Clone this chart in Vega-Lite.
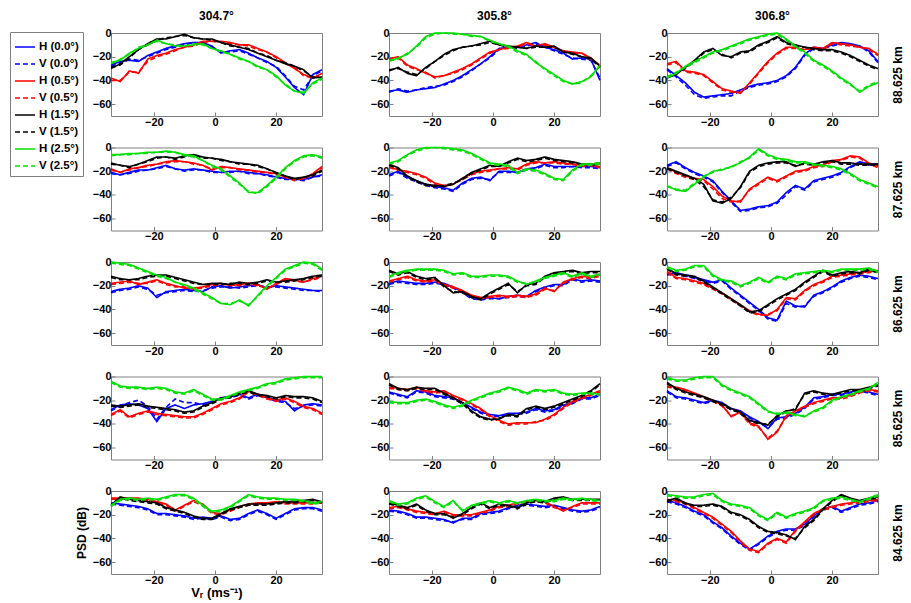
{
  "$schema": "https://vega.github.io/schema/vega-lite/v6.json",
  "padding": {"left": 9, "top": 9, "right": 4, "bottom": 2},
  "data": {"values": [
    {"p":1,"x":-34,"e00h":-27,"e00v":-28,"e05h":-38,"e05v":-40,"e15h":-30,"e15v":-29,"e25h":-25,"e25v":-26},
    {"p":1,"x":-31,"e00h":-24,"e00v":-25,"e05h":-41,"e05v":-40,"e15h":-26,"e15v":-27,"e25h":-23,"e25v":-22},
    {"p":1,"x":-28,"e00h":-23,"e00v":-22,"e05h":-32,"e05v":-33,"e15h":-20,"e15v":-21,"e25h":-17,"e25v":-18},
    {"p":1,"x":-25,"e00h":-24,"e00v":-23,"e05h":-34,"e05v":-33,"e15h":-14,"e15v":-14,"e25h":-13,"e25v":-12},
    {"p":1,"x":-22,"e00h":-19,"e00v":-20,"e05h":-22,"e05v":-24,"e15h":-9,"e15v":-10,"e25h":-10,"e25v":-10},
    {"p":1,"x":-19,"e00h":-16,"e00v":-17,"e05h":-19,"e05v":-20,"e15h":-5,"e15v":-6,"e25h":-6,"e25v":-7},
    {"p":1,"x":-16,"e00h":-13,"e00v":-14,"e05h":-17,"e05v":-18,"e15h":-5,"e15v":-4,"e25h":-9,"e25v":-9},
    {"p":1,"x":-13,"e00h":-11,"e00v":-12,"e05h":-14,"e05v":-15,"e15h":-3,"e15v":-3,"e25h":-11,"e25v":-10},
    {"p":1,"x":-10,"e00h":-9,"e00v":-10,"e05h":-12,"e05v":-12,"e15h":-1,"e15v":-2,"e25h":-11,"e25v":-11},
    {"p":1,"x":-7,"e00h":-8,"e00v":-8,"e05h":-10,"e05v":-11,"e15h":-4,"e15v":-4,"e25h":-10,"e25v":-9},
    {"p":1,"x":-4,"e00h":-8,"e00v":-9,"e05h":-7,"e05v":-8,"e15h":-5,"e15v":-5,"e25h":-9,"e25v":-10},
    {"p":1,"x":-1,"e00h":-11,"e00v":-12,"e05h":-7,"e05v":-7,"e15h":-5,"e15v":-6,"e25h":-13,"e25v":-13},
    {"p":1,"x":2,"e00h":-17,"e00v":-16,"e05h":-7,"e05v":-8,"e15h":-8,"e15v":-8,"e25h":-15,"e25v":-16},
    {"p":1,"x":5,"e00h":-15,"e00v":-16,"e05h":-8,"e05v":-9,"e15h":-10,"e15v":-11,"e25h":-18,"e25v":-18},
    {"p":1,"x":8,"e00h":-14,"e00v":-15,"e05h":-10,"e05v":-10,"e15h":-12,"e15v":-12,"e25h":-21,"e25v":-22},
    {"p":1,"x":11,"e00h":-17,"e00v":-18,"e05h":-10,"e05v":-11,"e15h":-14,"e15v":-13,"e25h":-24,"e25v":-24},
    {"p":1,"x":14,"e00h":-21,"e00v":-21,"e05h":-13,"e05v":-14,"e15h":-17,"e15v":-17,"e25h":-28,"e25v":-29},
    {"p":1,"x":17,"e00h":-24,"e00v":-25,"e05h":-16,"e05v":-16,"e15h":-20,"e15v":-19,"e25h":-31,"e25v":-31},
    {"p":1,"x":20,"e00h":-29,"e00v":-28,"e05h":-20,"e05v":-21,"e15h":-23,"e15v":-23,"e25h":-36,"e25v":-37},
    {"p":1,"x":23,"e00h":-37,"e00v":-36,"e05h":-25,"e05v":-26,"e15h":-26,"e15v":-25,"e25h":-44,"e25v":-43},
    {"p":1,"x":26,"e00h":-46,"e00v":-45,"e05h":-30,"e05v":-29,"e15h":-28,"e15v":-28,"e25h":-49,"e25v":-49},
    {"p":1,"x":29,"e00h":-52,"e00v":-48,"e05h":-35,"e05v":-36,"e15h":-31,"e15v":-32,"e25h":-51,"e25v":-50},
    {"p":1,"x":32,"e00h":-35,"e00v":-36,"e05h":-38,"e05v":-38,"e15h":-38,"e15v":-37,"e25h":-42,"e25v":-43},
    {"p":1,"x":35,"e00h":-31,"e00v":-32,"e05h":-34,"e05v":-35,"e15h":-37,"e15v":-38,"e25h":-38,"e25v":-39},

    {"p":2,"x":-34,"e00h":-49,"e00v":-50,"e05h":-22,"e05v":-23,"e15h":-32,"e15v":-31,"e25h":-24,"e25v":-23},
    {"p":2,"x":-31,"e00h":-48,"e00v":-47,"e05h":-20,"e05v":-21,"e15h":-29,"e15v":-30,"e25h":-21,"e25v":-22},
    {"p":2,"x":-28,"e00h":-50,"e00v":-49,"e05h":-27,"e05v":-28,"e15h":-34,"e15v":-33,"e25h":-18,"e25v":-17},
    {"p":2,"x":-25,"e00h":-48,"e00v":-48,"e05h":-30,"e05v":-31,"e15h":-36,"e15v":-35,"e25h":-11,"e25v":-12},
    {"p":2,"x":-22,"e00h":-47,"e00v":-46,"e05h":-34,"e05v":-33,"e15h":-29,"e15v":-30,"e25h":-3,"e25v":-4},
    {"p":2,"x":-19,"e00h":-46,"e00v":-45,"e05h":-37,"e05v":-38,"e15h":-24,"e15v":-24,"e25h":0,"e25v":-1},
    {"p":2,"x":-16,"e00h":-43,"e00v":-44,"e05h":-36,"e05v":-36,"e15h":-18,"e15v":-19,"e25h":0,"e25v":0},
    {"p":2,"x":-13,"e00h":-40,"e00v":-41,"e05h":-33,"e05v":-34,"e15h":-14,"e15v":-15,"e25h":0,"e25v":-1},
    {"p":2,"x":-10,"e00h":-36,"e00v":-37,"e05h":-30,"e05v":-31,"e15h":-12,"e15v":-12,"e25h":-1,"e25v":-1},
    {"p":2,"x":-7,"e00h":-31,"e00v":-32,"e05h":-26,"e05v":-27,"e15h":-11,"e15v":-11,"e25h":-2,"e25v":-3},
    {"p":2,"x":-4,"e00h":-26,"e00v":-26,"e05h":-21,"e05v":-22,"e15h":-9,"e15v":-10,"e25h":-3,"e25v":-3},
    {"p":2,"x":-1,"e00h":-20,"e00v":-21,"e05h":-16,"e05v":-17,"e15h":-7,"e15v":-8,"e25h":-6,"e25v":-7},
    {"p":2,"x":2,"e00h":-13,"e00v":-14,"e05h":-14,"e05v":-14,"e15h":-10,"e15v":-10,"e25h":-9,"e25v":-9},
    {"p":2,"x":5,"e00h":-12,"e00v":-12,"e05h":-12,"e05v":-13,"e15h":-11,"e15v":-12,"e25h":-11,"e25v":-12},
    {"p":2,"x":8,"e00h":-12,"e00v":-13,"e05h":-11,"e05v":-12,"e15h":-12,"e15v":-12,"e25h":-15,"e25v":-16},
    {"p":2,"x":11,"e00h":-10,"e00v":-11,"e05h":-8,"e05v":-9,"e15h":-13,"e15v":-13,"e25h":-18,"e25v":-19},
    {"p":2,"x":14,"e00h":-8,"e00v":-9,"e05h":-11,"e05v":-11,"e15h":-11,"e15v":-12,"e25h":-25,"e25v":-24},
    {"p":2,"x":17,"e00h":-12,"e00v":-12,"e05h":-9,"e05v":-10,"e15h":-12,"e15v":-12,"e25h":-30,"e25v":-31},
    {"p":2,"x":20,"e00h":-14,"e00v":-15,"e05h":-12,"e05v":-12,"e15h":-11,"e15v":-12,"e25h":-35,"e25v":-36},
    {"p":2,"x":23,"e00h":-17,"e00v":-18,"e05h":-15,"e05v":-16,"e15h":-16,"e15v":-16,"e25h":-40,"e25v":-41},
    {"p":2,"x":26,"e00h":-22,"e00v":-21,"e05h":-16,"e05v":-17,"e15h":-17,"e15v":-18,"e25h":-43,"e25v":-43},
    {"p":2,"x":29,"e00h":-21,"e00v":-22,"e05h":-17,"e05v":-17,"e15h":-20,"e15v":-20,"e25h":-41,"e25v":-42},
    {"p":2,"x":32,"e00h":-22,"e00v":-23,"e05h":-21,"e05v":-22,"e15h":-21,"e15v":-22,"e25h":-37,"e25v":-36},
    {"p":2,"x":35,"e00h":-40,"e00v":-38,"e05h":-28,"e05v":-27,"e15h":-28,"e15v":-29,"e25h":-27,"e25v":-28},

    {"p":3,"x":-34,"e00h":-30,"e00v":-31,"e05h":-26,"e05v":-27,"e15h":-38,"e15v":-37,"e25h":-38,"e25v":-37},
    {"p":3,"x":-31,"e00h":-36,"e00v":-37,"e05h":-24,"e05v":-25,"e15h":-35,"e15v":-34,"e25h":-34,"e25v":-33},
    {"p":3,"x":-28,"e00h":-42,"e00v":-44,"e05h":-32,"e05v":-33,"e15h":-29,"e15v":-30,"e25h":-28,"e25v":-29},
    {"p":3,"x":-25,"e00h":-50,"e00v":-52,"e05h":-33,"e05v":-34,"e15h":-23,"e15v":-24,"e25h":-24,"e25v":-25},
    {"p":3,"x":-22,"e00h":-54,"e00v":-55,"e05h":-35,"e05v":-36,"e15h":-16,"e15v":-17,"e25h":-20,"e25v":-21},
    {"p":3,"x":-19,"e00h":-53,"e00v":-54,"e05h":-41,"e05v":-42,"e15h":-13,"e15v":-14,"e25h":-16,"e25v":-17},
    {"p":3,"x":-16,"e00h":-52,"e00v":-53,"e05h":-47,"e05v":-48,"e15h":-19,"e15v":-18,"e25h":-14,"e25v":-15},
    {"p":3,"x":-13,"e00h":-51,"e00v":-53,"e05h":-49,"e05v":-50,"e15h":-20,"e15v":-21,"e25h":-11,"e25v":-12},
    {"p":3,"x":-10,"e00h":-48,"e00v":-49,"e05h":-51,"e05v":-50,"e15h":-16,"e15v":-17,"e25h":-8,"e25v":-9},
    {"p":3,"x":-7,"e00h":-45,"e00v":-46,"e05h":-42,"e05v":-43,"e15h":-15,"e15v":-16,"e25h":-5,"e25v":-6},
    {"p":3,"x":-4,"e00h":-43,"e00v":-44,"e05h":-33,"e05v":-34,"e15h":-10,"e15v":-11,"e25h":-3,"e25v":-4},
    {"p":3,"x":-1,"e00h":-42,"e00v":-43,"e05h":-24,"e05v":-25,"e15h":-7,"e15v":-8,"e25h":-1,"e25v":-2},
    {"p":3,"x":2,"e00h":-40,"e00v":-41,"e05h":-17,"e05v":-18,"e15h":-3,"e15v":-4,"e25h":0,"e25v":-1},
    {"p":3,"x":5,"e00h":-36,"e00v":-37,"e05h":-12,"e05v":-13,"e15h":-8,"e15v":-9,"e25h":-5,"e25v":-6},
    {"p":3,"x":8,"e00h":-29,"e00v":-30,"e05h":-12,"e05v":-13,"e15h":-10,"e15v":-11,"e25h":-11,"e25v":-12},
    {"p":3,"x":11,"e00h":-18,"e00v":-19,"e05h":-14,"e05v":-14,"e15h":-12,"e15v":-12,"e25h":-16,"e25v":-17},
    {"p":3,"x":14,"e00h":-12,"e00v":-13,"e05h":-12,"e05v":-13,"e15h":-13,"e15v":-14,"e25h":-23,"e25v":-24},
    {"p":3,"x":17,"e00h":-13,"e00v":-13,"e05h":-13,"e05v":-14,"e15h":-14,"e15v":-15,"e25h":-27,"e25v":-28},
    {"p":3,"x":20,"e00h":-10,"e00v":-11,"e05h":-8,"e05v":-9,"e15h":-14,"e15v":-15,"e25h":-32,"e25v":-33},
    {"p":3,"x":23,"e00h":-8,"e00v":-9,"e05h":-9,"e05v":-10,"e15h":-16,"e15v":-17,"e25h":-38,"e25v":-39},
    {"p":3,"x":26,"e00h":-9,"e00v":-10,"e05h":-10,"e05v":-11,"e15h":-19,"e15v":-20,"e25h":-43,"e25v":-44},
    {"p":3,"x":29,"e00h":-11,"e00v":-11,"e05h":-12,"e05v":-12,"e15h":-23,"e15v":-24,"e25h":-50,"e25v":-49},
    {"p":3,"x":32,"e00h":-15,"e00v":-16,"e05h":-13,"e05v":-14,"e15h":-27,"e15v":-28,"e25h":-45,"e25v":-44},
    {"p":3,"x":35,"e00h":-24,"e00v":-25,"e05h":-18,"e05v":-19,"e15h":-30,"e15v":-31,"e25h":-42,"e25v":-41},

    {"p":4,"x":-34,"e00h":-21,"e00v":-22,"e05h":-18,"e05v":-19,"e15h":-13,"e15v":-14,"e25h":-6,"e25v":-7},
    {"p":4,"x":-31,"e00h":-23,"e00v":-23,"e05h":-21,"e05v":-21,"e15h":-15,"e15v":-15,"e25h":-6,"e25v":-6},
    {"p":4,"x":-28,"e00h":-21,"e00v":-22,"e05h":-18,"e05v":-19,"e15h":-16,"e15v":-17,"e25h":-5,"e25v":-6},
    {"p":4,"x":-25,"e00h":-19,"e00v":-20,"e05h":-17,"e05v":-17,"e15h":-14,"e15v":-14,"e25h":-5,"e25v":-5},
    {"p":4,"x":-22,"e00h":-19,"e00v":-19,"e05h":-15,"e05v":-16,"e15h":-11,"e15v":-12,"e25h":-4,"e25v":-5},
    {"p":4,"x":-19,"e00h":-17,"e00v":-18,"e05h":-14,"e05v":-14,"e15h":-8,"e15v":-9,"e25h":-4,"e25v":-4},
    {"p":4,"x":-16,"e00h":-15,"e00v":-16,"e05h":-12,"e05v":-13,"e15h":-8,"e15v":-8,"e25h":-3,"e25v":-4},
    {"p":4,"x":-13,"e00h":-18,"e00v":-18,"e05h":-11,"e05v":-12,"e15h":-9,"e15v":-10,"e25h":-4,"e25v":-4},
    {"p":4,"x":-10,"e00h":-19,"e00v":-20,"e05h":-12,"e05v":-12,"e15h":-7,"e15v":-8,"e25h":-6,"e25v":-7},
    {"p":4,"x":-7,"e00h":-18,"e00v":-19,"e05h":-13,"e05v":-14,"e15h":-6,"e15v":-6,"e25h":-7,"e25v":-8},
    {"p":4,"x":-4,"e00h":-19,"e00v":-19,"e05h":-15,"e05v":-15,"e15h":-8,"e15v":-9,"e25h":-11,"e25v":-11},
    {"p":4,"x":-1,"e00h":-20,"e00v":-21,"e05h":-19,"e05v":-18,"e15h":-9,"e15v":-9,"e25h":-15,"e25v":-16},
    {"p":4,"x":2,"e00h":-21,"e00v":-21,"e05h":-16,"e05v":-17,"e15h":-10,"e15v":-11,"e25h":-18,"e25v":-19},
    {"p":4,"x":5,"e00h":-20,"e00v":-21,"e05h":-17,"e05v":-17,"e15h":-12,"e15v":-12,"e25h":-24,"e25v":-25},
    {"p":4,"x":8,"e00h":-20,"e00v":-20,"e05h":-18,"e05v":-19,"e15h":-13,"e15v":-14,"e25h":-30,"e25v":-31},
    {"p":4,"x":11,"e00h":-21,"e00v":-22,"e05h":-19,"e05v":-19,"e15h":-14,"e15v":-14,"e25h":-38,"e25v":-37},
    {"p":4,"x":14,"e00h":-22,"e00v":-22,"e05h":-20,"e05v":-21,"e15h":-15,"e15v":-16,"e25h":-38,"e25v":-39},
    {"p":4,"x":17,"e00h":-23,"e00v":-24,"e05h":-21,"e05v":-21,"e15h":-18,"e15v":-18,"e25h":-32,"e25v":-33},
    {"p":4,"x":20,"e00h":-25,"e00v":-25,"e05h":-22,"e05v":-23,"e15h":-21,"e15v":-22,"e25h":-25,"e25v":-26},
    {"p":4,"x":23,"e00h":-26,"e00v":-27,"e05h":-25,"e05v":-25,"e15h":-24,"e15v":-24,"e25h":-17,"e25v":-18},
    {"p":4,"x":26,"e00h":-27,"e00v":-27,"e05h":-27,"e05v":-28,"e15h":-26,"e15v":-27,"e25h":-11,"e25v":-12},
    {"p":4,"x":29,"e00h":-27,"e00v":-28,"e05h":-26,"e05v":-26,"e15h":-25,"e15v":-25,"e25h":-7,"e25v":-8},
    {"p":4,"x":32,"e00h":-25,"e00v":-25,"e05h":-22,"e05v":-23,"e15h":-23,"e15v":-24,"e25h":-6,"e25v":-7},
    {"p":4,"x":35,"e00h":-23,"e00v":-24,"e05h":-16,"e05v":-17,"e15h":-19,"e15v":-20,"e25h":-8,"e25v":-9},

    {"p":5,"x":-34,"e00h":-23,"e00v":-24,"e05h":-16,"e05v":-17,"e15h":-14,"e15v":-15,"e25h":-13,"e25v":-14},
    {"p":5,"x":-31,"e00h":-20,"e00v":-21,"e05h":-19,"e05v":-19,"e15h":-17,"e15v":-18,"e25h":-11,"e25v":-12},
    {"p":5,"x":-28,"e00h":-25,"e00v":-26,"e05h":-20,"e05v":-21,"e15h":-24,"e15v":-25,"e25h":-6,"e25v":-7},
    {"p":5,"x":-25,"e00h":-28,"e00v":-29,"e05h":-22,"e05v":-23,"e15h":-28,"e15v":-29,"e25h":-2,"e25v":-3},
    {"p":5,"x":-22,"e00h":-31,"e00v":-32,"e05h":-25,"e05v":-26,"e15h":-31,"e15v":-32,"e25h":0,"e25v":-1},
    {"p":5,"x":-19,"e00h":-33,"e00v":-34,"e05h":-30,"e05v":-31,"e15h":-32,"e15v":-33,"e25h":0,"e25v":0},
    {"p":5,"x":-16,"e00h":-34,"e00v":-35,"e05h":-32,"e05v":-33,"e15h":-33,"e15v":-32,"e25h":0,"e25v":-1},
    {"p":5,"x":-13,"e00h":-36,"e00v":-37,"e05h":-31,"e05v":-31,"e15h":-31,"e15v":-30,"e25h":-1,"e25v":-2},
    {"p":5,"x":-10,"e00h":-30,"e00v":-31,"e05h":-26,"e05v":-27,"e15h":-26,"e15v":-27,"e25h":-2,"e25v":-3},
    {"p":5,"x":-7,"e00h":-26,"e00v":-27,"e05h":-22,"e05v":-23,"e15h":-21,"e15v":-22,"e25h":-5,"e25v":-6},
    {"p":5,"x":-4,"e00h":-25,"e00v":-26,"e05h":-20,"e05v":-21,"e15h":-18,"e15v":-19,"e25h":-9,"e25v":-10},
    {"p":5,"x":-1,"e00h":-28,"e00v":-27,"e05h":-19,"e05v":-20,"e15h":-15,"e15v":-16,"e25h":-13,"e25v":-14},
    {"p":5,"x":2,"e00h":-20,"e00v":-21,"e05h":-18,"e05v":-18,"e15h":-16,"e15v":-16,"e25h":-14,"e25v":-15},
    {"p":5,"x":5,"e00h":-20,"e00v":-21,"e05h":-17,"e05v":-18,"e15h":-12,"e15v":-13,"e25h":-15,"e25v":-16},
    {"p":5,"x":8,"e00h":-21,"e00v":-21,"e05h":-18,"e05v":-19,"e15h":-9,"e15v":-10,"e25h":-21,"e25v":-22},
    {"p":5,"x":11,"e00h":-18,"e00v":-19,"e05h":-14,"e05v":-15,"e15h":-11,"e15v":-12,"e25h":-18,"e25v":-19},
    {"p":5,"x":14,"e00h":-17,"e00v":-18,"e05h":-12,"e05v":-13,"e15h":-10,"e15v":-11,"e25h":-19,"e25v":-20},
    {"p":5,"x":17,"e00h":-14,"e00v":-15,"e05h":-13,"e05v":-13,"e15h":-8,"e15v":-9,"e25h":-22,"e25v":-23},
    {"p":5,"x":20,"e00h":-16,"e00v":-17,"e05h":-12,"e05v":-13,"e15h":-10,"e15v":-11,"e25h":-26,"e25v":-27},
    {"p":5,"x":23,"e00h":-16,"e00v":-17,"e05h":-13,"e05v":-14,"e15h":-11,"e15v":-12,"e25h":-27,"e25v":-28},
    {"p":5,"x":26,"e00h":-16,"e00v":-16,"e05h":-14,"e05v":-14,"e15h":-12,"e15v":-13,"e25h":-19,"e25v":-20},
    {"p":5,"x":29,"e00h":-16,"e00v":-17,"e05h":-15,"e05v":-16,"e15h":-14,"e15v":-14,"e25h":-14,"e25v":-15},
    {"p":5,"x":32,"e00h":-16,"e00v":-17,"e05h":-15,"e05v":-15,"e15h":-14,"e15v":-15,"e25h":-14,"e25v":-15},
    {"p":5,"x":35,"e00h":-17,"e00v":-18,"e05h":-16,"e05v":-17,"e15h":-13,"e15v":-14,"e25h":-13,"e25v":-14},

    {"p":6,"x":-34,"e00h":-15,"e00v":-16,"e05h":-17,"e05v":-18,"e15h":-17,"e15v":-18,"e25h":-32,"e25v":-33},
    {"p":6,"x":-31,"e00h":-12,"e00v":-13,"e05h":-21,"e05v":-22,"e15h":-20,"e15v":-21,"e25h":-36,"e25v":-35},
    {"p":6,"x":-28,"e00h":-17,"e00v":-18,"e05h":-24,"e05v":-25,"e15h":-23,"e15v":-24,"e25h":-37,"e25v":-36},
    {"p":6,"x":-25,"e00h":-21,"e00v":-22,"e05h":-26,"e05v":-27,"e15h":-26,"e15v":-27,"e25h":-31,"e25v":-30},
    {"p":6,"x":-22,"e00h":-24,"e00v":-25,"e05h":-27,"e05v":-28,"e15h":-31,"e15v":-33,"e25h":-25,"e25v":-24},
    {"p":6,"x":-19,"e00h":-28,"e00v":-29,"e05h":-33,"e05v":-35,"e15h":-45,"e15v":-44,"e25h":-20,"e25v":-21},
    {"p":6,"x":-16,"e00h":-37,"e00v":-38,"e05h":-41,"e05v":-43,"e15h":-47,"e15v":-46,"e25h":-19,"e25v":-18},
    {"p":6,"x":-13,"e00h":-45,"e00v":-46,"e05h":-45,"e05v":-46,"e15h":-43,"e15v":-42,"e25h":-16,"e25v":-17},
    {"p":6,"x":-10,"e00h":-53,"e00v":-54,"e05h":-46,"e05v":-45,"e15h":-33,"e15v":-34,"e25h":-13,"e25v":-12},
    {"p":6,"x":-7,"e00h":-52,"e00v":-53,"e05h":-35,"e05v":-36,"e15h":-20,"e15v":-21,"e25h":-8,"e25v":-9},
    {"p":6,"x":-4,"e00h":-50,"e00v":-51,"e05h":-30,"e05v":-31,"e15h":-15,"e15v":-16,"e25h":-1,"e25v":-2},
    {"p":6,"x":-1,"e00h":-49,"e00v":-50,"e05h":-25,"e05v":-26,"e15h":-13,"e15v":-14,"e25h":-6,"e25v":-7},
    {"p":6,"x":2,"e00h":-46,"e00v":-47,"e05h":-28,"e05v":-29,"e15h":-12,"e15v":-13,"e25h":-9,"e25v":-10},
    {"p":6,"x":5,"e00h":-38,"e00v":-40,"e05h":-24,"e05v":-25,"e15h":-12,"e15v":-13,"e25h":-10,"e25v":-11},
    {"p":6,"x":8,"e00h":-32,"e00v":-33,"e05h":-20,"e05v":-21,"e15h":-16,"e15v":-15,"e25h":-12,"e25v":-13},
    {"p":6,"x":11,"e00h":-35,"e00v":-36,"e05h":-19,"e05v":-20,"e15h":-13,"e15v":-14,"e25h":-12,"e25v":-13},
    {"p":6,"x":14,"e00h":-28,"e00v":-29,"e05h":-16,"e05v":-17,"e15h":-14,"e15v":-15,"e25h":-14,"e25v":-15},
    {"p":6,"x":17,"e00h":-26,"e00v":-27,"e05h":-15,"e05v":-16,"e15h":-12,"e15v":-13,"e25h":-15,"e25v":-16},
    {"p":6,"x":20,"e00h":-24,"e00v":-25,"e05h":-11,"e05v":-12,"e15h":-11,"e15v":-12,"e25h":-16,"e25v":-17},
    {"p":6,"x":23,"e00h":-21,"e00v":-22,"e05h":-10,"e05v":-11,"e15h":-13,"e15v":-14,"e25h":-18,"e25v":-19},
    {"p":6,"x":26,"e00h":-16,"e00v":-17,"e05h":-7,"e05v":-8,"e15h":-13,"e15v":-14,"e25h":-22,"e25v":-23},
    {"p":6,"x":29,"e00h":-12,"e00v":-13,"e05h":-8,"e05v":-9,"e15h":-14,"e15v":-15,"e25h":-27,"e25v":-28},
    {"p":6,"x":32,"e00h":-14,"e00v":-15,"e05h":-13,"e05v":-14,"e15h":-14,"e15v":-15,"e25h":-30,"e25v":-31},
    {"p":6,"x":35,"e00h":-14,"e00v":-15,"e05h":-16,"e05v":-17,"e15h":-14,"e15v":-15,"e25h":-33,"e25v":-34},

    {"p":7,"x":-34,"e00h":-25,"e00v":-26,"e05h":-18,"e05v":-19,"e15h":-12,"e15v":-13,"e25h":0,"e25v":-1},
    {"p":7,"x":-31,"e00h":-23,"e00v":-24,"e05h":-17,"e05v":-18,"e15h":-14,"e15v":-15,"e25h":-1,"e25v":-2},
    {"p":7,"x":-28,"e00h":-22,"e00v":-23,"e05h":-16,"e05v":-17,"e15h":-15,"e15v":-15,"e25h":-2,"e25v":-3},
    {"p":7,"x":-25,"e00h":-20,"e00v":-21,"e05h":-19,"e05v":-18,"e15h":-14,"e15v":-15,"e25h":-5,"e25v":-6},
    {"p":7,"x":-22,"e00h":-22,"e00v":-23,"e05h":-17,"e05v":-18,"e15h":-12,"e15v":-13,"e25h":-8,"e25v":-9},
    {"p":7,"x":-19,"e00h":-30,"e00v":-28,"e05h":-15,"e05v":-16,"e15h":-11,"e15v":-12,"e25h":-11,"e25v":-12},
    {"p":7,"x":-16,"e00h":-25,"e00v":-26,"e05h":-18,"e05v":-19,"e15h":-11,"e15v":-12,"e25h":-13,"e25v":-14},
    {"p":7,"x":-13,"e00h":-24,"e00v":-25,"e05h":-20,"e05v":-21,"e15h":-13,"e15v":-14,"e25h":-17,"e25v":-17},
    {"p":7,"x":-10,"e00h":-23,"e00v":-24,"e05h":-22,"e05v":-21,"e15h":-15,"e15v":-16,"e25h":-19,"e25v":-20},
    {"p":7,"x":-7,"e00h":-24,"e00v":-25,"e05h":-22,"e05v":-23,"e15h":-17,"e15v":-18,"e25h":-22,"e25v":-23},
    {"p":7,"x":-4,"e00h":-25,"e00v":-24,"e05h":-21,"e05v":-22,"e15h":-19,"e15v":-19,"e25h":-26,"e25v":-27},
    {"p":7,"x":-1,"e00h":-21,"e00v":-22,"e05h":-19,"e05v":-20,"e15h":-18,"e15v":-19,"e25h":-30,"e25v":-31},
    {"p":7,"x":2,"e00h":-20,"e00v":-21,"e05h":-18,"e05v":-19,"e15h":-18,"e15v":-19,"e25h":-35,"e25v":-35},
    {"p":7,"x":5,"e00h":-22,"e00v":-21,"e05h":-20,"e05v":-19,"e15h":-19,"e15v":-18,"e25h":-36,"e25v":-35},
    {"p":7,"x":8,"e00h":-21,"e00v":-22,"e05h":-19,"e05v":-20,"e15h":-17,"e15v":-18,"e25h":-32,"e25v":-33},
    {"p":7,"x":11,"e00h":-20,"e00v":-21,"e05h":-18,"e05v":-19,"e15h":-18,"e15v":-19,"e25h":-37,"e25v":-36},
    {"p":7,"x":14,"e00h":-19,"e00v":-20,"e05h":-19,"e05v":-20,"e15h":-17,"e15v":-18,"e25h":-28,"e25v":-29},
    {"p":7,"x":17,"e00h":-22,"e00v":-21,"e05h":-23,"e05v":-22,"e15h":-15,"e15v":-16,"e25h":-20,"e25v":-21},
    {"p":7,"x":20,"e00h":-20,"e00v":-21,"e05h":-18,"e05v":-19,"e15h":-17,"e15v":-17,"e25h":-13,"e25v":-14},
    {"p":7,"x":23,"e00h":-21,"e00v":-22,"e05h":-14,"e05v":-15,"e15h":-16,"e15v":-17,"e25h":-6,"e25v":-7},
    {"p":7,"x":26,"e00h":-22,"e00v":-23,"e05h":-15,"e05v":-16,"e15h":-15,"e15v":-16,"e25h":-3,"e25v":-4},
    {"p":7,"x":29,"e00h":-23,"e00v":-24,"e05h":-17,"e05v":-17,"e15h":-14,"e15v":-15,"e25h":0,"e25v":-1},
    {"p":7,"x":32,"e00h":-24,"e00v":-24,"e05h":-14,"e05v":-15,"e15h":-12,"e15v":-13,"e25h":-1,"e25v":-2},
    {"p":7,"x":35,"e00h":-24,"e00v":-25,"e05h":-12,"e05v":-13,"e15h":-11,"e15v":-12,"e25h":-6,"e25v":-7},

    {"p":8,"x":-34,"e00h":-18,"e00v":-19,"e05h":-16,"e05v":-17,"e15h":-7,"e15v":-8,"e25h":-12,"e25v":-13},
    {"p":8,"x":-31,"e00h":-16,"e00v":-17,"e05h":-14,"e05v":-15,"e15h":-10,"e15v":-11,"e25h":-9,"e25v":-10},
    {"p":8,"x":-28,"e00h":-17,"e00v":-18,"e05h":-12,"e05v":-13,"e15h":-8,"e15v":-9,"e25h":-7,"e25v":-8},
    {"p":8,"x":-25,"e00h":-18,"e00v":-19,"e05h":-15,"e05v":-16,"e15h":-12,"e15v":-13,"e25h":-6,"e25v":-7},
    {"p":8,"x":-22,"e00h":-18,"e00v":-19,"e05h":-16,"e05v":-17,"e15h":-14,"e15v":-15,"e25h":-6,"e25v":-7},
    {"p":8,"x":-19,"e00h":-17,"e00v":-18,"e05h":-15,"e05v":-16,"e15h":-13,"e15v":-14,"e25h":-6,"e25v":-7},
    {"p":8,"x":-16,"e00h":-18,"e00v":-19,"e05h":-19,"e05v":-20,"e15h":-20,"e15v":-21,"e25h":-7,"e25v":-8},
    {"p":8,"x":-13,"e00h":-21,"e00v":-22,"e05h":-21,"e05v":-22,"e15h":-26,"e15v":-25,"e25h":-10,"e25v":-11},
    {"p":8,"x":-10,"e00h":-25,"e00v":-26,"e05h":-24,"e05v":-25,"e15h":-25,"e15v":-26,"e25h":-9,"e25v":-10},
    {"p":8,"x":-7,"e00h":-30,"e00v":-31,"e05h":-28,"e05v":-29,"e15h":-29,"e15v":-30,"e25h":-12,"e25v":-13},
    {"p":8,"x":-4,"e00h":-31,"e00v":-32,"e05h":-30,"e05v":-31,"e15h":-31,"e15v":-32,"e25h":-12,"e25v":-13},
    {"p":8,"x":-1,"e00h":-30,"e00v":-31,"e05h":-29,"e05v":-30,"e15h":-26,"e15v":-27,"e25h":-11,"e25v":-12},
    {"p":8,"x":2,"e00h":-31,"e00v":-31,"e05h":-28,"e05v":-29,"e15h":-22,"e15v":-23,"e25h":-11,"e25v":-12},
    {"p":8,"x":5,"e00h":-29,"e00v":-30,"e05h":-29,"e05v":-30,"e15h":-18,"e15v":-19,"e25h":-12,"e25v":-13},
    {"p":8,"x":8,"e00h":-28,"e00v":-29,"e05h":-28,"e05v":-29,"e15h":-26,"e15v":-25,"e25h":-16,"e25v":-17},
    {"p":8,"x":11,"e00h":-29,"e00v":-30,"e05h":-29,"e05v":-30,"e15h":-19,"e15v":-20,"e25h":-19,"e25v":-18},
    {"p":8,"x":14,"e00h":-24,"e00v":-25,"e05h":-27,"e05v":-28,"e15h":-18,"e15v":-19,"e25h":-16,"e25v":-17},
    {"p":8,"x":17,"e00h":-21,"e00v":-22,"e05h":-22,"e05v":-23,"e15h":-12,"e15v":-13,"e25h":-13,"e25v":-14},
    {"p":8,"x":20,"e00h":-19,"e00v":-20,"e05h":-25,"e05v":-24,"e15h":-9,"e15v":-10,"e25h":-11,"e25v":-12},
    {"p":8,"x":23,"e00h":-19,"e00v":-20,"e05h":-17,"e05v":-18,"e15h":-8,"e15v":-9,"e25h":-9,"e25v":-10},
    {"p":8,"x":26,"e00h":-14,"e00v":-15,"e05h":-14,"e05v":-15,"e15h":-7,"e15v":-8,"e25h":-12,"e25v":-13},
    {"p":8,"x":29,"e00h":-16,"e00v":-17,"e05h":-12,"e05v":-13,"e15h":-9,"e15v":-10,"e25h":-9,"e25v":-10},
    {"p":8,"x":32,"e00h":-15,"e00v":-16,"e05h":-13,"e05v":-14,"e15h":-8,"e15v":-9,"e25h":-12,"e25v":-13},
    {"p":8,"x":35,"e00h":-16,"e00v":-17,"e05h":-11,"e05v":-12,"e15h":-8,"e15v":-9,"e25h":-10,"e25v":-11},

    {"p":9,"x":-34,"e00h":-10,"e00v":-11,"e05h":-8,"e05v":-9,"e15h":-5,"e15v":-6,"e25h":-4,"e25v":-5},
    {"p":9,"x":-31,"e00h":-9,"e00v":-10,"e05h":-13,"e05v":-14,"e15h":-10,"e15v":-11,"e25h":-7,"e25v":-8},
    {"p":9,"x":-28,"e00h":-11,"e00v":-12,"e05h":-14,"e05v":-15,"e15h":-11,"e15v":-12,"e25h":-6,"e25v":-7},
    {"p":9,"x":-25,"e00h":-13,"e00v":-14,"e05h":-16,"e05v":-17,"e15h":-12,"e15v":-13,"e25h":-3,"e25v":-4},
    {"p":9,"x":-22,"e00h":-15,"e00v":-16,"e05h":-18,"e05v":-19,"e15h":-16,"e15v":-17,"e25h":-3,"e25v":-4},
    {"p":9,"x":-19,"e00h":-17,"e00v":-18,"e05h":-22,"e05v":-23,"e15h":-21,"e15v":-22,"e25h":-11,"e25v":-12},
    {"p":9,"x":-16,"e00h":-15,"e00v":-16,"e05h":-26,"e05v":-27,"e15h":-26,"e15v":-27,"e25h":-15,"e25v":-16},
    {"p":9,"x":-13,"e00h":-22,"e00v":-23,"e05h":-31,"e05v":-32,"e15h":-31,"e15v":-32,"e25h":-16,"e25v":-17},
    {"p":9,"x":-10,"e00h":-28,"e00v":-29,"e05h":-36,"e05v":-37,"e15h":-36,"e15v":-37,"e25h":-20,"e25v":-21},
    {"p":9,"x":-7,"e00h":-34,"e00v":-35,"e05h":-41,"e05v":-42,"e15h":-42,"e15v":-43,"e25h":-17,"e25v":-18},
    {"p":9,"x":-4,"e00h":-40,"e00v":-41,"e05h":-44,"e05v":-45,"e15h":-41,"e15v":-42,"e25h":-13,"e25v":-14},
    {"p":9,"x":-1,"e00h":-47,"e00v":-48,"e05h":-45,"e05v":-44,"e15h":-36,"e15v":-37,"e25h":-17,"e25v":-18},
    {"p":9,"x":2,"e00h":-49,"e00v":-50,"e05h":-40,"e05v":-41,"e15h":-31,"e15v":-32,"e25h":-12,"e25v":-13},
    {"p":9,"x":5,"e00h":-33,"e00v":-35,"e05h":-30,"e05v":-31,"e15h":-27,"e15v":-28,"e25h":-14,"e25v":-15},
    {"p":9,"x":8,"e00h":-37,"e00v":-38,"e05h":-31,"e05v":-32,"e15h":-23,"e15v":-24,"e25h":-10,"e25v":-11},
    {"p":9,"x":11,"e00h":-38,"e00v":-37,"e05h":-24,"e05v":-25,"e15h":-17,"e15v":-18,"e25h":-9,"e25v":-10},
    {"p":9,"x":14,"e00h":-28,"e00v":-29,"e05h":-19,"e05v":-20,"e15h":-12,"e15v":-13,"e25h":-8,"e25v":-9},
    {"p":9,"x":17,"e00h":-25,"e00v":-26,"e05h":-16,"e05v":-17,"e15h":-7,"e15v":-8,"e25h":-7,"e25v":-8},
    {"p":9,"x":20,"e00h":-21,"e00v":-22,"e05h":-12,"e05v":-13,"e15h":-11,"e15v":-12,"e25h":-8,"e25v":-9},
    {"p":9,"x":23,"e00h":-16,"e00v":-17,"e05h":-11,"e05v":-12,"e15h":-9,"e15v":-10,"e25h":-6,"e25v":-7},
    {"p":9,"x":26,"e00h":-13,"e00v":-14,"e05h":-10,"e05v":-11,"e15h":-8,"e15v":-9,"e25h":-6,"e25v":-7},
    {"p":9,"x":29,"e00h":-11,"e00v":-12,"e05h":-9,"e05v":-10,"e15h":-9,"e15v":-10,"e25h":-6,"e25v":-7},
    {"p":9,"x":32,"e00h":-12,"e00v":-13,"e05h":-8,"e05v":-9,"e15h":-6,"e15v":-7,"e25h":-5,"e25v":-6},
    {"p":9,"x":35,"e00h":-14,"e00v":-15,"e05h":-7,"e05v":-8,"e15h":-8,"e15v":-9,"e25h":-8,"e25v":-9},

    {"p":10,"x":-34,"e00h":-28,"e00v":-29,"e05h":-32,"e05v":-33,"e15h":-24,"e15v":-25,"e25h":-4,"e25v":-5},
    {"p":10,"x":-31,"e00h":-24,"e00v":-25,"e05h":-28,"e05v":-29,"e15h":-25,"e15v":-26,"e25h":-8,"e25v":-9},
    {"p":10,"x":-28,"e00h":-23,"e00v":-22,"e05h":-34,"e05v":-35,"e15h":-24,"e15v":-25,"e25h":-9,"e25v":-10},
    {"p":10,"x":-25,"e00h":-24,"e00v":-20,"e05h":-31,"e05v":-32,"e15h":-23,"e15v":-24,"e25h":-9,"e25v":-10},
    {"p":10,"x":-22,"e00h":-27,"e00v":-25,"e05h":-29,"e05v":-30,"e15h":-25,"e15v":-26,"e25h":-10,"e25v":-11},
    {"p":10,"x":-19,"e00h":-38,"e00v":-36,"e05h":-31,"e05v":-32,"e15h":-26,"e15v":-27,"e25h":-9,"e25v":-10},
    {"p":10,"x":-16,"e00h":-27,"e00v":-26,"e05h":-32,"e05v":-33,"e15h":-27,"e15v":-28,"e25h":-10,"e25v":-11},
    {"p":10,"x":-13,"e00h":-24,"e00v":-19,"e05h":-33,"e05v":-34,"e15h":-28,"e15v":-29,"e25h":-13,"e25v":-14},
    {"p":10,"x":-10,"e00h":-27,"e00v":-22,"e05h":-34,"e05v":-35,"e15h":-30,"e15v":-31,"e25h":-14,"e25v":-15},
    {"p":10,"x":-7,"e00h":-24,"e00v":-22,"e05h":-34,"e05v":-35,"e15h":-29,"e15v":-30,"e25h":-11,"e25v":-12},
    {"p":10,"x":-4,"e00h":-23,"e00v":-24,"e05h":-31,"e05v":-32,"e15h":-25,"e15v":-26,"e25h":-15,"e25v":-16},
    {"p":10,"x":-1,"e00h":-21,"e00v":-22,"e05h":-27,"e05v":-28,"e15h":-22,"e15v":-23,"e25h":-19,"e25v":-20},
    {"p":10,"x":2,"e00h":-18,"e00v":-19,"e05h":-23,"e05v":-24,"e15h":-18,"e15v":-19,"e25h":-19,"e25v":-20},
    {"p":10,"x":5,"e00h":-17,"e00v":-18,"e05h":-21,"e05v":-22,"e15h":-17,"e15v":-18,"e25h":-16,"e25v":-17},
    {"p":10,"x":8,"e00h":-15,"e00v":-16,"e05h":-18,"e05v":-19,"e15h":-14,"e15v":-15,"e25h":-13,"e25v":-14},
    {"p":10,"x":11,"e00h":-18,"e00v":-19,"e05h":-12,"e05v":-13,"e15h":-12,"e15v":-13,"e25h":-11,"e25v":-12},
    {"p":10,"x":14,"e00h":-15,"e00v":-16,"e05h":-15,"e05v":-16,"e15h":-15,"e15v":-16,"e25h":-9,"e25v":-10},
    {"p":10,"x":17,"e00h":-17,"e00v":-18,"e05h":-18,"e05v":-19,"e15h":-16,"e15v":-17,"e25h":-6,"e25v":-7},
    {"p":10,"x":20,"e00h":-20,"e00v":-21,"e05h":-20,"e05v":-21,"e15h":-18,"e15v":-19,"e25h":-5,"e25v":-6},
    {"p":10,"x":23,"e00h":-21,"e00v":-22,"e05h":-18,"e05v":-19,"e15h":-16,"e15v":-17,"e25h":-2,"e25v":-3},
    {"p":10,"x":26,"e00h":-29,"e00v":-27,"e05h":-21,"e05v":-22,"e15h":-17,"e15v":-18,"e25h":-1,"e25v":-2},
    {"p":10,"x":29,"e00h":-24,"e00v":-25,"e05h":-25,"e05v":-26,"e15h":-17,"e15v":-18,"e25h":0,"e25v":-1},
    {"p":10,"x":32,"e00h":-23,"e00v":-24,"e05h":-27,"e05v":-28,"e15h":-18,"e15v":-19,"e25h":0,"e25v":-1},
    {"p":10,"x":35,"e00h":-24,"e00v":-25,"e05h":-31,"e05v":-32,"e15h":-21,"e15v":-22,"e25h":0,"e25v":-1},

    {"p":11,"x":-34,"e00h":-13,"e00v":-14,"e05h":-9,"e05v":-10,"e15h":-6,"e15v":-7,"e25h":-21,"e25v":-22},
    {"p":11,"x":-31,"e00h":-15,"e00v":-16,"e05h":-10,"e05v":-11,"e15h":-10,"e15v":-11,"e25h":-22,"e25v":-23},
    {"p":11,"x":-28,"e00h":-17,"e00v":-18,"e05h":-11,"e05v":-12,"e15h":-11,"e15v":-12,"e25h":-22,"e25v":-23},
    {"p":11,"x":-25,"e00h":-12,"e00v":-13,"e05h":-9,"e05v":-10,"e15h":-9,"e15v":-10,"e25h":-20,"e25v":-21},
    {"p":11,"x":-22,"e00h":-13,"e00v":-14,"e05h":-12,"e05v":-13,"e15h":-10,"e15v":-11,"e25h":-19,"e25v":-20},
    {"p":11,"x":-19,"e00h":-16,"e00v":-17,"e05h":-13,"e05v":-14,"e15h":-10,"e15v":-11,"e25h":-21,"e25v":-22},
    {"p":11,"x":-16,"e00h":-17,"e00v":-18,"e05h":-12,"e05v":-13,"e15h":-14,"e15v":-15,"e25h":-24,"e25v":-25},
    {"p":11,"x":-13,"e00h":-18,"e00v":-19,"e05h":-16,"e05v":-17,"e15h":-18,"e15v":-19,"e25h":-26,"e25v":-27},
    {"p":11,"x":-10,"e00h":-22,"e00v":-23,"e05h":-19,"e05v":-20,"e15h":-22,"e15v":-23,"e25h":-24,"e25v":-25},
    {"p":11,"x":-7,"e00h":-26,"e00v":-27,"e05h":-23,"e05v":-24,"e15h":-29,"e15v":-30,"e25h":-20,"e25v":-21},
    {"p":11,"x":-4,"e00h":-30,"e00v":-31,"e05h":-27,"e05v":-28,"e15h":-34,"e15v":-35,"e25h":-17,"e25v":-18},
    {"p":11,"x":-1,"e00h":-32,"e00v":-33,"e05h":-33,"e05v":-34,"e15h":-36,"e15v":-37,"e25h":-14,"e25v":-15},
    {"p":11,"x":2,"e00h":-33,"e00v":-34,"e05h":-37,"e05v":-38,"e15h":-36,"e15v":-35,"e25h":-12,"e25v":-13},
    {"p":11,"x":5,"e00h":-31,"e00v":-32,"e05h":-40,"e05v":-41,"e15h":-32,"e15v":-33,"e25h":-9,"e25v":-10},
    {"p":11,"x":8,"e00h":-31,"e00v":-32,"e05h":-39,"e05v":-40,"e15h":-33,"e15v":-34,"e25h":-11,"e25v":-12},
    {"p":11,"x":11,"e00h":-30,"e00v":-31,"e05h":-39,"e05v":-40,"e15h":-27,"e15v":-28,"e25h":-14,"e25v":-15},
    {"p":11,"x":14,"e00h":-27,"e00v":-28,"e05h":-39,"e05v":-38,"e15h":-25,"e15v":-26,"e25h":-11,"e25v":-12},
    {"p":11,"x":17,"e00h":-29,"e00v":-30,"e05h":-36,"e05v":-37,"e15h":-27,"e15v":-28,"e25h":-12,"e25v":-13},
    {"p":11,"x":20,"e00h":-28,"e00v":-29,"e05h":-32,"e05v":-33,"e15h":-25,"e15v":-26,"e25h":-11,"e25v":-12},
    {"p":11,"x":23,"e00h":-24,"e00v":-25,"e05h":-26,"e05v":-27,"e15h":-22,"e15v":-23,"e25h":-14,"e25v":-15},
    {"p":11,"x":26,"e00h":-22,"e00v":-23,"e05h":-21,"e05v":-22,"e15h":-19,"e15v":-20,"e25h":-15,"e25v":-16},
    {"p":11,"x":29,"e00h":-18,"e00v":-19,"e05h":-18,"e05v":-19,"e15h":-16,"e15v":-17,"e25h":-14,"e25v":-15},
    {"p":11,"x":32,"e00h":-18,"e00v":-19,"e05h":-15,"e05v":-16,"e15h":-12,"e15v":-13,"e25h":-14,"e25v":-15},
    {"p":11,"x":35,"e00h":-15,"e00v":-16,"e05h":-12,"e05v":-13,"e15h":-6,"e15v":-7,"e25h":-15,"e25v":-16},

    {"p":12,"x":-34,"e00h":-12,"e00v":-13,"e05h":-8,"e05v":-9,"e15h":-5,"e15v":-6,"e25h":-1,"e25v":-2},
    {"p":12,"x":-31,"e00h":-17,"e00v":-18,"e05h":-9,"e05v":-10,"e15h":-10,"e15v":-11,"e25h":-3,"e25v":-4},
    {"p":12,"x":-28,"e00h":-18,"e00v":-19,"e05h":-11,"e05v":-12,"e15h":-13,"e15v":-14,"e25h":-3,"e25v":-4},
    {"p":12,"x":-25,"e00h":-20,"e00v":-21,"e05h":-14,"e05v":-15,"e15h":-15,"e15v":-16,"e25h":-1,"e25v":-2},
    {"p":12,"x":-22,"e00h":-22,"e00v":-23,"e05h":-17,"e05v":-18,"e15h":-17,"e15v":-18,"e25h":0,"e25v":-1},
    {"p":12,"x":-19,"e00h":-20,"e00v":-21,"e05h":-20,"e05v":-21,"e15h":-20,"e15v":-21,"e25h":0,"e25v":-1},
    {"p":12,"x":-16,"e00h":-22,"e00v":-23,"e05h":-24,"e05v":-25,"e15h":-23,"e15v":-24,"e25h":-7,"e25v":-8},
    {"p":12,"x":-13,"e00h":-27,"e00v":-28,"e05h":-34,"e05v":-33,"e15h":-27,"e15v":-28,"e25h":-11,"e25v":-12},
    {"p":12,"x":-10,"e00h":-29,"e00v":-30,"e05h":-30,"e05v":-31,"e15h":-30,"e15v":-31,"e25h":-14,"e25v":-15},
    {"p":12,"x":-7,"e00h":-34,"e00v":-35,"e05h":-39,"e05v":-40,"e15h":-37,"e15v":-38,"e25h":-17,"e25v":-18},
    {"p":12,"x":-4,"e00h":-38,"e00v":-39,"e05h":-42,"e05v":-43,"e15h":-39,"e15v":-40,"e25h":-23,"e25v":-24},
    {"p":12,"x":-1,"e00h":-44,"e00v":-43,"e05h":-53,"e05v":-52,"e15h":-41,"e15v":-40,"e25h":-29,"e25v":-30},
    {"p":12,"x":2,"e00h":-35,"e00v":-36,"e05h":-47,"e05v":-46,"e15h":-33,"e15v":-34,"e25h":-32,"e25v":-31},
    {"p":12,"x":5,"e00h":-34,"e00v":-35,"e05h":-33,"e05v":-34,"e15h":-29,"e15v":-30,"e25h":-30,"e25v":-31},
    {"p":12,"x":8,"e00h":-31,"e00v":-32,"e05h":-29,"e05v":-30,"e15h":-28,"e15v":-27,"e25h":-32,"e25v":-33},
    {"p":12,"x":11,"e00h":-26,"e00v":-27,"e05h":-25,"e05v":-26,"e15h":-14,"e15v":-15,"e25h":-34,"e25v":-33},
    {"p":12,"x":14,"e00h":-18,"e00v":-19,"e05h":-22,"e05v":-23,"e15h":-12,"e15v":-13,"e25h":-29,"e25v":-30},
    {"p":12,"x":17,"e00h":-17,"e00v":-18,"e05h":-20,"e05v":-21,"e15h":-14,"e15v":-15,"e25h":-26,"e25v":-27},
    {"p":12,"x":20,"e00h":-15,"e00v":-16,"e05h":-18,"e05v":-19,"e15h":-15,"e15v":-16,"e25h":-20,"e25v":-21},
    {"p":12,"x":23,"e00h":-15,"e00v":-16,"e05h":-18,"e05v":-19,"e15h":-13,"e15v":-14,"e25h":-17,"e25v":-18},
    {"p":12,"x":26,"e00h":-13,"e00v":-14,"e05h":-16,"e05v":-17,"e15h":-11,"e15v":-12,"e25h":-15,"e25v":-16},
    {"p":12,"x":29,"e00h":-11,"e00v":-12,"e05h":-13,"e05v":-14,"e15h":-11,"e15v":-12,"e25h":-12,"e25v":-13},
    {"p":12,"x":32,"e00h":-13,"e00v":-14,"e05h":-11,"e05v":-12,"e15h":-9,"e15v":-10,"e25h":-10,"e25v":-11},
    {"p":12,"x":35,"e00h":-15,"e00v":-16,"e05h":-12,"e05v":-13,"e15h":-7,"e15v":-8,"e25h":-5,"e25v":-6},

    {"p":13,"x":-34,"e00h":-10,"e00v":-11,"e05h":-6,"e05v":-7,"e15h":-12,"e15v":-13,"e25h":-12,"e25v":-13},
    {"p":13,"x":-31,"e00h":-11,"e00v":-12,"e05h":-6,"e05v":-7,"e15h":-5,"e15v":-6,"e25h":-7,"e25v":-8},
    {"p":13,"x":-28,"e00h":-12,"e00v":-13,"e05h":-6,"e05v":-7,"e15h":-7,"e15v":-8,"e25h":-6,"e25v":-7},
    {"p":13,"x":-25,"e00h":-13,"e00v":-14,"e05h":-6,"e05v":-7,"e15h":-8,"e15v":-9,"e25h":-7,"e25v":-8},
    {"p":13,"x":-22,"e00h":-15,"e00v":-16,"e05h":-7,"e05v":-8,"e15h":-9,"e15v":-10,"e25h":-6,"e25v":-7},
    {"p":13,"x":-19,"e00h":-19,"e00v":-20,"e05h":-9,"e05v":-10,"e15h":-10,"e15v":-11,"e25h":-7,"e25v":-8},
    {"p":13,"x":-16,"e00h":-19,"e00v":-20,"e05h":-11,"e05v":-12,"e15h":-14,"e15v":-15,"e25h":-5,"e25v":-6},
    {"p":13,"x":-13,"e00h":-20,"e00v":-21,"e05h":-16,"e05v":-17,"e15h":-16,"e15v":-17,"e25h":-3,"e25v":-4},
    {"p":13,"x":-10,"e00h":-21,"e00v":-22,"e05h":-12,"e05v":-13,"e15h":-18,"e15v":-19,"e25h":-3,"e25v":-4},
    {"p":13,"x":-7,"e00h":-23,"e00v":-24,"e05h":-8,"e05v":-9,"e15h":-21,"e15v":-22,"e25h":-6,"e25v":-7},
    {"p":13,"x":-4,"e00h":-22,"e00v":-23,"e05h":-11,"e05v":-12,"e15h":-23,"e15v":-24,"e25h":-12,"e25v":-13},
    {"p":13,"x":-1,"e00h":-23,"e00v":-24,"e05h":-18,"e05v":-19,"e15h":-23,"e15v":-24,"e25h":-17,"e25v":-18},
    {"p":13,"x":2,"e00h":-21,"e00v":-22,"e05h":-19,"e05v":-20,"e15h":-19,"e15v":-20,"e25h":-16,"e25v":-17},
    {"p":13,"x":5,"e00h":-24,"e00v":-25,"e05h":-16,"e05v":-17,"e15h":-15,"e15v":-16,"e25h":-13,"e25v":-14},
    {"p":13,"x":8,"e00h":-23,"e00v":-24,"e05h":-13,"e05v":-14,"e15h":-13,"e15v":-14,"e25h":-8,"e25v":-9},
    {"p":13,"x":11,"e00h":-19,"e00v":-20,"e05h":-11,"e05v":-12,"e15h":-11,"e15v":-12,"e25h":-3,"e25v":-4},
    {"p":13,"x":14,"e00h":-16,"e00v":-17,"e05h":-10,"e05v":-11,"e15h":-11,"e15v":-12,"e25h":-5,"e25v":-6},
    {"p":13,"x":17,"e00h":-19,"e00v":-20,"e05h":-10,"e05v":-11,"e15h":-11,"e15v":-12,"e25h":-6,"e25v":-7},
    {"p":13,"x":20,"e00h":-23,"e00v":-24,"e05h":-9,"e05v":-10,"e15h":-10,"e15v":-11,"e25h":-6,"e25v":-7},
    {"p":13,"x":23,"e00h":-19,"e00v":-20,"e05h":-10,"e05v":-11,"e15h":-9,"e15v":-10,"e25h":-7,"e25v":-8},
    {"p":13,"x":26,"e00h":-15,"e00v":-16,"e05h":-10,"e05v":-11,"e15h":-9,"e15v":-10,"e25h":-7,"e25v":-8},
    {"p":13,"x":29,"e00h":-14,"e00v":-15,"e05h":-10,"e05v":-11,"e15h":-8,"e15v":-9,"e25h":-8,"e25v":-9},
    {"p":13,"x":32,"e00h":-14,"e00v":-15,"e05h":-10,"e05v":-11,"e15h":-7,"e15v":-8,"e25h":-10,"e25v":-11},
    {"p":13,"x":35,"e00h":-16,"e00v":-17,"e05h":-9,"e05v":-10,"e15h":-9,"e15v":-10,"e25h":-9,"e25v":-10},

    {"p":14,"x":-34,"e00h":-16,"e00v":-17,"e05h":-14,"e05v":-15,"e15h":-10,"e15v":-11,"e25h":-8,"e25v":-9},
    {"p":14,"x":-31,"e00h":-17,"e00v":-18,"e05h":-13,"e05v":-14,"e15h":-12,"e15v":-13,"e25h":-11,"e25v":-12},
    {"p":14,"x":-28,"e00h":-19,"e00v":-20,"e05h":-15,"e05v":-16,"e15h":-14,"e15v":-15,"e25h":-10,"e25v":-11},
    {"p":14,"x":-25,"e00h":-22,"e00v":-23,"e05h":-17,"e05v":-18,"e15h":-11,"e15v":-12,"e25h":-6,"e25v":-7},
    {"p":14,"x":-22,"e00h":-22,"e00v":-23,"e05h":-18,"e05v":-19,"e15h":-16,"e15v":-17,"e25h":-4,"e25v":-5},
    {"p":14,"x":-19,"e00h":-23,"e00v":-24,"e05h":-19,"e05v":-20,"e15h":-19,"e15v":-20,"e25h":-9,"e25v":-10},
    {"p":14,"x":-16,"e00h":-24,"e00v":-25,"e05h":-17,"e05v":-18,"e15h":-19,"e15v":-20,"e25h":-13,"e25v":-14},
    {"p":14,"x":-13,"e00h":-27,"e00v":-26,"e05h":-20,"e05v":-21,"e15h":-23,"e15v":-22,"e25h":-8,"e25v":-9},
    {"p":14,"x":-10,"e00h":-23,"e00v":-24,"e05h":-20,"e05v":-21,"e15h":-19,"e15v":-20,"e25h":-17,"e25v":-16},
    {"p":14,"x":-7,"e00h":-23,"e00v":-24,"e05h":-20,"e05v":-21,"e15h":-14,"e15v":-15,"e25h":-12,"e25v":-13},
    {"p":14,"x":-4,"e00h":-19,"e00v":-20,"e05h":-18,"e05v":-19,"e15h":-10,"e15v":-11,"e25h":-10,"e25v":-11},
    {"p":14,"x":-1,"e00h":-18,"e00v":-19,"e05h":-16,"e05v":-17,"e15h":-14,"e15v":-15,"e25h":-8,"e25v":-9},
    {"p":14,"x":2,"e00h":-17,"e00v":-18,"e05h":-13,"e05v":-14,"e15h":-11,"e15v":-12,"e25h":-10,"e25v":-11},
    {"p":14,"x":5,"e00h":-14,"e00v":-15,"e05h":-12,"e05v":-13,"e15h":-12,"e15v":-13,"e25h":-8,"e25v":-9},
    {"p":14,"x":8,"e00h":-12,"e00v":-13,"e05h":-10,"e05v":-11,"e15h":-14,"e15v":-15,"e25h":-10,"e25v":-11},
    {"p":14,"x":11,"e00h":-11,"e00v":-12,"e05h":-9,"e05v":-10,"e15h":-10,"e15v":-11,"e25h":-8,"e25v":-9},
    {"p":14,"x":14,"e00h":-12,"e00v":-13,"e05h":-8,"e05v":-9,"e15h":-8,"e15v":-9,"e25h":-7,"e25v":-8},
    {"p":14,"x":17,"e00h":-13,"e00v":-14,"e05h":-9,"e05v":-10,"e15h":-9,"e15v":-10,"e25h":-8,"e25v":-9},
    {"p":14,"x":20,"e00h":-12,"e00v":-13,"e05h":-13,"e05v":-14,"e15h":-6,"e15v":-7,"e25h":-8,"e25v":-9},
    {"p":14,"x":23,"e00h":-14,"e00v":-15,"e05h":-17,"e05v":-16,"e15h":-5,"e15v":-6,"e25h":-6,"e25v":-7},
    {"p":14,"x":26,"e00h":-16,"e00v":-17,"e05h":-13,"e05v":-14,"e15h":-7,"e15v":-8,"e25h":-7,"e25v":-8},
    {"p":14,"x":29,"e00h":-17,"e00v":-18,"e05h":-10,"e05v":-11,"e15h":-7,"e15v":-8,"e25h":-6,"e25v":-7},
    {"p":14,"x":32,"e00h":-16,"e00v":-17,"e05h":-10,"e05v":-11,"e15h":-7,"e15v":-8,"e25h":-7,"e25v":-8},
    {"p":14,"x":35,"e00h":-13,"e00v":-14,"e05h":-10,"e05v":-11,"e15h":-7,"e15v":-8,"e25h":-8,"e25v":-9},

    {"p":15,"x":-34,"e00h":-8,"e00v":-9,"e05h":-7,"e05v":-8,"e15h":-8,"e15v":-9,"e25h":-3,"e25v":-4},
    {"p":15,"x":-31,"e00h":-10,"e00v":-11,"e05h":-8,"e05v":-9,"e15h":-6,"e15v":-7,"e25h":-4,"e25v":-5},
    {"p":15,"x":-28,"e00h":-13,"e00v":-14,"e05h":-10,"e05v":-11,"e15h":-10,"e15v":-11,"e25h":-5,"e25v":-6},
    {"p":15,"x":-25,"e00h":-17,"e00v":-18,"e05h":-14,"e05v":-15,"e15h":-12,"e15v":-13,"e25h":-5,"e25v":-6},
    {"p":15,"x":-22,"e00h":-20,"e00v":-21,"e05h":-18,"e05v":-19,"e15h":-12,"e15v":-13,"e25h":-3,"e25v":-4},
    {"p":15,"x":-19,"e00h":-26,"e00v":-27,"e05h":-22,"e05v":-23,"e15h":-11,"e15v":-12,"e25h":-2,"e25v":-3},
    {"p":15,"x":-16,"e00h":-31,"e00v":-32,"e05h":-28,"e05v":-29,"e15h":-13,"e15v":-14,"e25h":-8,"e25v":-9},
    {"p":15,"x":-13,"e00h":-38,"e00v":-39,"e05h":-34,"e05v":-35,"e15h":-18,"e15v":-19,"e25h":-11,"e25v":-12},
    {"p":15,"x":-10,"e00h":-44,"e00v":-45,"e05h":-42,"e05v":-43,"e15h":-20,"e15v":-21,"e25h":-12,"e25v":-13},
    {"p":15,"x":-7,"e00h":-49,"e00v":-50,"e05h":-49,"e05v":-50,"e15h":-24,"e15v":-25,"e25h":-14,"e25v":-15},
    {"p":15,"x":-4,"e00h":-44,"e00v":-45,"e05h":-51,"e05v":-52,"e15h":-30,"e15v":-31,"e25h":-20,"e25v":-21},
    {"p":15,"x":-1,"e00h":-38,"e00v":-39,"e05h":-44,"e05v":-45,"e15h":-34,"e15v":-35,"e25h":-24,"e25v":-25},
    {"p":15,"x":2,"e00h":-34,"e00v":-35,"e05h":-40,"e05v":-41,"e15h":-35,"e15v":-36,"e25h":-18,"e25v":-19},
    {"p":15,"x":5,"e00h":-32,"e00v":-33,"e05h":-43,"e05v":-44,"e15h":-37,"e15v":-38,"e25h":-22,"e25v":-23},
    {"p":15,"x":8,"e00h":-32,"e00v":-33,"e05h":-33,"e05v":-34,"e15h":-41,"e15v":-40,"e25h":-19,"e25v":-20},
    {"p":15,"x":11,"e00h":-28,"e00v":-29,"e05h":-26,"e05v":-27,"e15h":-30,"e15v":-31,"e25h":-17,"e25v":-18},
    {"p":15,"x":14,"e00h":-21,"e00v":-22,"e05h":-19,"e05v":-20,"e15h":-24,"e15v":-25,"e25h":-14,"e25v":-15},
    {"p":15,"x":17,"e00h":-15,"e00v":-16,"e05h":-15,"e05v":-16,"e15h":-15,"e15v":-16,"e25h":-8,"e25v":-9},
    {"p":15,"x":20,"e00h":-13,"e00v":-14,"e05h":-13,"e05v":-14,"e15h":-8,"e15v":-9,"e25h":-6,"e25v":-7},
    {"p":15,"x":23,"e00h":-17,"e00v":-18,"e05h":-11,"e05v":-12,"e15h":-3,"e15v":-4,"e25h":-5,"e25v":-6},
    {"p":15,"x":26,"e00h":-14,"e00v":-15,"e05h":-10,"e05v":-11,"e15h":-6,"e15v":-7,"e25h":-7,"e25v":-8},
    {"p":15,"x":29,"e00h":-11,"e00v":-12,"e05h":-9,"e05v":-10,"e15h":-8,"e15v":-9,"e25h":-9,"e25v":-10},
    {"p":15,"x":32,"e00h":-10,"e00v":-11,"e05h":-8,"e05v":-9,"e15h":-6,"e15v":-7,"e25h":-6,"e25v":-7},
    {"p":15,"x":35,"e00h":-8,"e00v":-9,"e05h":-7,"e05v":-8,"e15h":-5,"e15v":-6,"e25h":-3,"e25v":-4}
  ]},
  "transform": [
    {"fold": ["e00h","e00v","e05h","e05v","e15h","e15v","e25h","e25v"], "as": ["s","psd"]}
  ],
  "columns": 3,
  "spacing": {"row": 31.5, "column": 67},
  "bounds": "flush",
  "concat": [
    {"width":211,"height":83,"title":"304.7°","transform":[{"filter":"datum.p==1"}],
     "mark":{"type":"line","strokeWidth":1.6},
     "encoding":{
       "x":{"field":"x","type":"quantitative","scale":{"domain":[-34,35],"nice":false,"zero":false},"axis":{"values":[-20,0,20],"title":null}},
       "y":{"field":"psd","type":"quantitative","scale":{"domain":[-70,0],"nice":false},"axis":{"values":[0,-20,-40,-60],"title":null}},
       "color":{"field":"s","type":"nominal","legend":{"title":null,"orient":"none","legendX":-101,"legendY":-1,"labelExpr":"upper(slice(datum.value,3)) + ' (' + slice(datum.value,1,2) + '.' + slice(datum.value,2,3) + '°)'"}},
       "strokeDash":{"field":"s","type":"nominal","scale":{"range":[[1,0],[5,3],[1,0],[5,3],[1,0],[5,3],[1,0],[5,3]]},"legend":{"title":null,"orient":"none","legendX":-101,"legendY":-1,"labelExpr":"upper(slice(datum.value,3)) + ' (' + slice(datum.value,1,2) + '.' + slice(datum.value,2,3) + '°)'"}}
     }},
    {"width":211,"height":83,"title":"305.8°","transform":[{"filter":"datum.p==2"}],
     "mark":{"type":"line","strokeWidth":1.6},
     "encoding":{
       "x":{"field":"x","type":"quantitative","scale":{"domain":[-34,35],"nice":false,"zero":false},"axis":{"values":[-20,0,20],"title":null}},
       "y":{"field":"psd","type":"quantitative","scale":{"domain":[-70,0],"nice":false},"axis":{"values":[0,-20,-40,-60],"title":null}},
       "color":{"field":"s","type":"nominal","legend":null},
       "strokeDash":{"field":"s","type":"nominal","scale":{"range":[[1,0],[5,3],[1,0],[5,3],[1,0],[5,3],[1,0],[5,3]]},"legend":null}
     }},
    {"width":211,"height":83,"title":"306.8°","transform":[{"filter":"datum.p==3"}],
     "layer":[
       {"mark":{"type":"line","strokeWidth":1.6},
        "encoding":{
          "x":{"field":"x","type":"quantitative","scale":{"domain":[-34,35],"nice":false,"zero":false},"axis":{"values":[-20,0,20],"title":null}},
          "y":{"field":"psd","type":"quantitative","scale":{"domain":[-70,0],"nice":false},"axis":{"values":[0,-20,-40,-60],"title":null}},
          "color":{"field":"s","type":"nominal","legend":null},
          "strokeDash":{"field":"s","type":"nominal","scale":{"range":[[1,0],[5,3],[1,0],[5,3],[1,0],[5,3],[1,0],[5,3]]},"legend":null}
        }},
       {"mark":{"type":"rule","opacity":0},
        "encoding":{"y":{"aggregate":"min","field":"psd","type":"quantitative","scale":{"domain":[-70,0],"nice":false},"axis":{"orient":"right","title":"88.625 km","labels":false,"ticks":false,"domain":false,"titleAngle":270,"titlePadding":26}}}}
     ],
     "resolve":{"axis":{"y":"independent"}}},

    {"width":211,"height":83,"transform":[{"filter":"datum.p==4"}],
     "mark":{"type":"line","strokeWidth":1.6},
     "encoding":{
       "x":{"field":"x","type":"quantitative","scale":{"domain":[-34,35],"nice":false,"zero":false},"axis":{"values":[-20,0,20],"title":null}},
       "y":{"field":"psd","type":"quantitative","scale":{"domain":[-70,0],"nice":false},"axis":{"values":[0,-20,-40,-60],"title":null}},
       "color":{"field":"s","type":"nominal","legend":null},
       "strokeDash":{"field":"s","type":"nominal","scale":{"range":[[1,0],[5,3],[1,0],[5,3],[1,0],[5,3],[1,0],[5,3]]},"legend":null}
     }},
    {"width":211,"height":83,"transform":[{"filter":"datum.p==5"}],
     "mark":{"type":"line","strokeWidth":1.6},
     "encoding":{
       "x":{"field":"x","type":"quantitative","scale":{"domain":[-34,35],"nice":false,"zero":false},"axis":{"values":[-20,0,20],"title":null}},
       "y":{"field":"psd","type":"quantitative","scale":{"domain":[-70,0],"nice":false},"axis":{"values":[0,-20,-40,-60],"title":null}},
       "color":{"field":"s","type":"nominal","legend":null},
       "strokeDash":{"field":"s","type":"nominal","scale":{"range":[[1,0],[5,3],[1,0],[5,3],[1,0],[5,3],[1,0],[5,3]]},"legend":null}
     }},
    {"width":211,"height":83,"transform":[{"filter":"datum.p==6"}],
     "layer":[
       {"mark":{"type":"line","strokeWidth":1.6},
        "encoding":{
          "x":{"field":"x","type":"quantitative","scale":{"domain":[-34,35],"nice":false,"zero":false},"axis":{"values":[-20,0,20],"title":null}},
          "y":{"field":"psd","type":"quantitative","scale":{"domain":[-70,0],"nice":false},"axis":{"values":[0,-20,-40,-60],"title":null}},
          "color":{"field":"s","type":"nominal","legend":null},
          "strokeDash":{"field":"s","type":"nominal","scale":{"range":[[1,0],[5,3],[1,0],[5,3],[1,0],[5,3],[1,0],[5,3]]},"legend":null}
        }},
       {"mark":{"type":"rule","opacity":0},
        "encoding":{"y":{"aggregate":"min","field":"psd","type":"quantitative","scale":{"domain":[-70,0],"nice":false},"axis":{"orient":"right","title":"87.625 km","labels":false,"ticks":false,"domain":false,"titleAngle":270,"titlePadding":26}}}}
     ],
     "resolve":{"axis":{"y":"independent"}}},

    {"width":211,"height":83,"transform":[{"filter":"datum.p==7"}],
     "mark":{"type":"line","strokeWidth":1.6},
     "encoding":{
       "x":{"field":"x","type":"quantitative","scale":{"domain":[-34,35],"nice":false,"zero":false},"axis":{"values":[-20,0,20],"title":null}},
       "y":{"field":"psd","type":"quantitative","scale":{"domain":[-70,0],"nice":false},"axis":{"values":[0,-20,-40,-60],"title":null}},
       "color":{"field":"s","type":"nominal","legend":null},
       "strokeDash":{"field":"s","type":"nominal","scale":{"range":[[1,0],[5,3],[1,0],[5,3],[1,0],[5,3],[1,0],[5,3]]},"legend":null}
     }},
    {"width":211,"height":83,"transform":[{"filter":"datum.p==8"}],
     "mark":{"type":"line","strokeWidth":1.6},
     "encoding":{
       "x":{"field":"x","type":"quantitative","scale":{"domain":[-34,35],"nice":false,"zero":false},"axis":{"values":[-20,0,20],"title":null}},
       "y":{"field":"psd","type":"quantitative","scale":{"domain":[-70,0],"nice":false},"axis":{"values":[0,-20,-40,-60],"title":null}},
       "color":{"field":"s","type":"nominal","legend":null},
       "strokeDash":{"field":"s","type":"nominal","scale":{"range":[[1,0],[5,3],[1,0],[5,3],[1,0],[5,3],[1,0],[5,3]]},"legend":null}
     }},
    {"width":211,"height":83,"transform":[{"filter":"datum.p==9"}],
     "layer":[
       {"mark":{"type":"line","strokeWidth":1.6},
        "encoding":{
          "x":{"field":"x","type":"quantitative","scale":{"domain":[-34,35],"nice":false,"zero":false},"axis":{"values":[-20,0,20],"title":null}},
          "y":{"field":"psd","type":"quantitative","scale":{"domain":[-70,0],"nice":false},"axis":{"values":[0,-20,-40,-60],"title":null}},
          "color":{"field":"s","type":"nominal","legend":null},
          "strokeDash":{"field":"s","type":"nominal","scale":{"range":[[1,0],[5,3],[1,0],[5,3],[1,0],[5,3],[1,0],[5,3]]},"legend":null}
        }},
       {"mark":{"type":"rule","opacity":0},
        "encoding":{"y":{"aggregate":"min","field":"psd","type":"quantitative","scale":{"domain":[-70,0],"nice":false},"axis":{"orient":"right","title":"86.625 km","labels":false,"ticks":false,"domain":false,"titleAngle":270,"titlePadding":26}}}}
     ],
     "resolve":{"axis":{"y":"independent"}}},

    {"width":211,"height":83,"transform":[{"filter":"datum.p==10"}],
     "mark":{"type":"line","strokeWidth":1.6},
     "encoding":{
       "x":{"field":"x","type":"quantitative","scale":{"domain":[-34,35],"nice":false,"zero":false},"axis":{"values":[-20,0,20],"title":null}},
       "y":{"field":"psd","type":"quantitative","scale":{"domain":[-70,0],"nice":false},"axis":{"values":[0,-20,-40,-60],"title":null}},
       "color":{"field":"s","type":"nominal","legend":null},
       "strokeDash":{"field":"s","type":"nominal","scale":{"range":[[1,0],[5,3],[1,0],[5,3],[1,0],[5,3],[1,0],[5,3]]},"legend":null}
     }},
    {"width":211,"height":83,"transform":[{"filter":"datum.p==11"}],
     "mark":{"type":"line","strokeWidth":1.6},
     "encoding":{
       "x":{"field":"x","type":"quantitative","scale":{"domain":[-34,35],"nice":false,"zero":false},"axis":{"values":[-20,0,20],"title":null}},
       "y":{"field":"psd","type":"quantitative","scale":{"domain":[-70,0],"nice":false},"axis":{"values":[0,-20,-40,-60],"title":null}},
       "color":{"field":"s","type":"nominal","legend":null},
       "strokeDash":{"field":"s","type":"nominal","scale":{"range":[[1,0],[5,3],[1,0],[5,3],[1,0],[5,3],[1,0],[5,3]]},"legend":null}
     }},
    {"width":211,"height":83,"transform":[{"filter":"datum.p==12"}],
     "layer":[
       {"mark":{"type":"line","strokeWidth":1.6},
        "encoding":{
          "x":{"field":"x","type":"quantitative","scale":{"domain":[-34,35],"nice":false,"zero":false},"axis":{"values":[-20,0,20],"title":null}},
          "y":{"field":"psd","type":"quantitative","scale":{"domain":[-70,0],"nice":false},"axis":{"values":[0,-20,-40,-60],"title":null}},
          "color":{"field":"s","type":"nominal","legend":null},
          "strokeDash":{"field":"s","type":"nominal","scale":{"range":[[1,0],[5,3],[1,0],[5,3],[1,0],[5,3],[1,0],[5,3]]},"legend":null}
        }},
       {"mark":{"type":"rule","opacity":0},
        "encoding":{"y":{"aggregate":"min","field":"psd","type":"quantitative","scale":{"domain":[-70,0],"nice":false},"axis":{"orient":"right","title":"85.625 km","labels":false,"ticks":false,"domain":false,"titleAngle":270,"titlePadding":26}}}}
     ],
     "resolve":{"axis":{"y":"independent"}}},

    {"width":211,"height":83,"transform":[{"filter":"datum.p==13"}],
     "mark":{"type":"line","strokeWidth":1.6},
     "encoding":{
       "x":{"field":"x","type":"quantitative","scale":{"domain":[-34,35],"nice":false,"zero":false},"axis":{"values":[-20,0,20],"title":"Vᵣ (ms⁻¹)","titleFontSize":13,"titlePadding":1}},
       "y":{"field":"psd","type":"quantitative","scale":{"domain":[-70,0],"nice":false},"axis":{"values":[0,-20,-40,-60],"title":"PSD (dB)","titlePadding":4}},
       "color":{"field":"s","type":"nominal","legend":null},
       "strokeDash":{"field":"s","type":"nominal","scale":{"range":[[1,0],[5,3],[1,0],[5,3],[1,0],[5,3],[1,0],[5,3]]},"legend":null}
     }},
    {"width":211,"height":83,"transform":[{"filter":"datum.p==14"}],
     "mark":{"type":"line","strokeWidth":1.6},
     "encoding":{
       "x":{"field":"x","type":"quantitative","scale":{"domain":[-34,35],"nice":false,"zero":false},"axis":{"values":[-20,0,20],"title":null}},
       "y":{"field":"psd","type":"quantitative","scale":{"domain":[-70,0],"nice":false},"axis":{"values":[0,-20,-40,-60],"title":null}},
       "color":{"field":"s","type":"nominal","legend":null},
       "strokeDash":{"field":"s","type":"nominal","scale":{"range":[[1,0],[5,3],[1,0],[5,3],[1,0],[5,3],[1,0],[5,3]]},"legend":null}
     }},
    {"width":211,"height":83,"transform":[{"filter":"datum.p==15"}],
     "layer":[
       {"mark":{"type":"line","strokeWidth":1.6},
        "encoding":{
          "x":{"field":"x","type":"quantitative","scale":{"domain":[-34,35],"nice":false,"zero":false},"axis":{"values":[-20,0,20],"title":null}},
          "y":{"field":"psd","type":"quantitative","scale":{"domain":[-70,0],"nice":false},"axis":{"values":[0,-20,-40,-60],"title":null}},
          "color":{"field":"s","type":"nominal","legend":null},
          "strokeDash":{"field":"s","type":"nominal","scale":{"range":[[1,0],[5,3],[1,0],[5,3],[1,0],[5,3],[1,0],[5,3]]},"legend":null}
        }},
       {"mark":{"type":"rule","opacity":0},
        "encoding":{"y":{"aggregate":"min","field":"psd","type":"quantitative","scale":{"domain":[-70,0],"nice":false},"axis":{"orient":"right","title":"84.625 km","labels":false,"ticks":false,"domain":false,"titleAngle":270,"titlePadding":26}}}}
     ],
     "resolve":{"axis":{"y":"independent"}}}
  ],
  "config": {
    "font": "Liberation Sans",
    "view": {"stroke": "#808080", "strokeWidth": 1},
    "range": {"category": ["#0000ff","#0000ff","#ff0000","#ff0000","#000000","#000000","#00e000","#00e000"]},
    "axis": {"grid": false, "domain": false, "labelFont": "Liberation Sans", "labelFontWeight": "bold", "labelFontSize": 11, "labelColor": "#000", "tickColor": "#808080", "tickSize": -4, "labelPadding": 4, "titleFont": "Liberation Sans", "titleFontWeight": "bold", "titleFontSize": 12, "titleColor": "#000"},
    "title": {"font": "Liberation Sans", "fontWeight": "bold", "fontSize": 12, "color": "#000", "offset": 0},
    "legend": {"strokeColor": "#808080", "fillColor": "#ffffff", "padding": 4, "rowPadding": 0, "symbolType": "stroke", "symbolSize": 400, "symbolStrokeWidth": 1.6, "labelFont": "Liberation Sans", "labelFontWeight": "bold", "labelFontSize": 11.5, "labelColor": "#000", "labelOffset": 3}
  }
}
